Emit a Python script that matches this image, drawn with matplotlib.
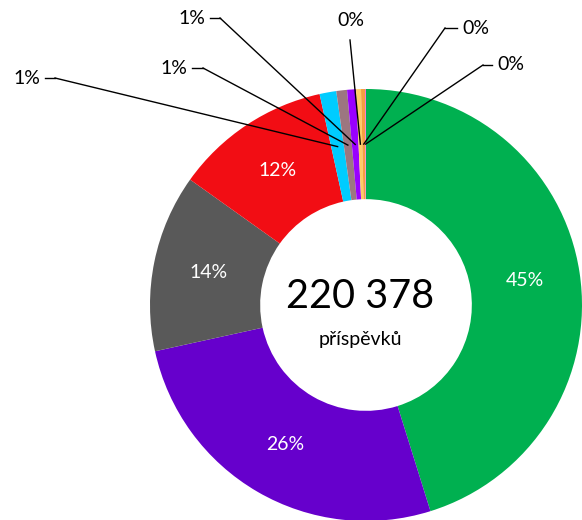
import matplotlib
matplotlib.use("Agg")
import matplotlib.pyplot as plt
import numpy as np

categories = ["A", "B", "C", "D", "E", "F", "G", "H", "I", "J"]
values = [45.2, 26.4, 13.3, 11.7, 1.25, 0.8, 0.66, 0.37, 0.3, 0.07]
labels = ["45%", "26%", "14%", "12%", "1%", "1%", "1%", "0%", "0%", "0%"]
colors = ["#00B050", "#6600CC", "#595959", "#F20D14", "#00CCFF",
          "#9C7680", "#9900FF", "#FFCC66", "#F4A040", "#FF66CC"]
total_text = "220 378"
sub_text = "příspěvků"

plt.rcParams['font.family'] = ['Lato', 'DejaVu Sans']

W, H = 582, 520
fig = plt.figure(figsize=(W / 100, H / 100), dpi=100)
ax = fig.add_axes([0, 0, 1, 1])

scale = 216.0
cx, cy = 366, 305
def px(x, y):
    return ((x - cx) / scale, (cy - y) / scale)

hole = 0.49
wedges, _ = ax.pie(values, colors=colors, startangle=90, counterclock=False,
                   radius=1.0, wedgeprops=dict(width=1 - hole, linewidth=0))

rmid = (1 + hole) / 2
# outside label layout (pixel positions of text anchor & elbow)
outside = {
    4: ((40, 78), (55, 78), 'right'),
    5: ((187, 68), (203, 68), 'right'),
    6: ((205, 18), (220, 18), 'right'),
    7: ((351, 20), (350, 40), 'center'),
    8: ((462, 28), (445, 28), 'left'),
    9: ((497, 65), (483, 65), 'left'),
}

for i, w in enumerate(wedges):
    ang = np.deg2rad((w.theta1 + w.theta2) / 2)
    mx, my = rmid * np.cos(ang), rmid * np.sin(ang)
    if i < 4:
        ax.text(mx, my, labels[i], color='white', fontsize=14,
                ha='center', va='center')
    else:
        (tx, ty), (ex, ey), ha = outside[i]
        tpos = px(tx, ty)
        epos = px(ex, ey)
        ax.plot([epos[0], mx], [epos[1], my], color='black', lw=1.0)
        if ha == 'center':
            ax.text(tpos[0], tpos[1], labels[i], fontsize=14, ha='center', va='center')
        else:
            sx = tpos[0] + (0.025 if ha == 'right' else -0.025)
            ax.plot([sx, epos[0]], [epos[1], epos[1]], color='black', lw=1.0)
            ax.text(tpos[0], tpos[1], labels[i], fontsize=14,
                    ha='right' if ha == 'right' else 'left', va='center')

ax.text(*px(360, 297), total_text, fontsize=28.5, ha='center', va='center')
ax.text(*px(360, 339), sub_text, fontsize=14, ha='center', va='center')

ax.set_xlim(-cx / scale, (W - cx) / scale)
ax.set_ylim(-(H - cy) / scale, cy / scale)
ax.set_aspect('equal')
ax.axis('off')

fig.savefig("out.png", dpi=100)
